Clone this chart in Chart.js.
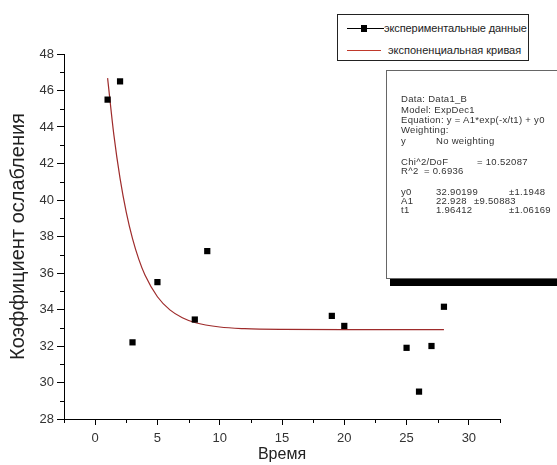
<!DOCTYPE html>
<html lang="ru">
<head>
    <meta charset="UTF-8">
    <title>Коэффициент ослабления</title>
    <style>
        body {
            margin: 0;
            background: #fff;
            overflow: hidden;
        }

        .wrap {
            position: relative;
            width: 557px;
            height: 465px;
            overflow: hidden;
            font-family: "Liberation Sans", Arial, sans-serif;
        }

        #fitChart {
            position: absolute;
            left: 0;
            top: 0;
        }

        /* legend box, top right */
        .legend {
            position: absolute;
            left: 337px;
            top: 14px;
            width: 190px;
            height: 45px;
            border: 1px solid #222;
            background: #fff;
            font-size: 11px;
            color: #222;
        }

        .legend .mark {
            position: absolute;
            height: 1px;
        }

        .legend .txt {
            position: absolute;
            white-space: nowrap;
            line-height: 12px;
        }

        /* fit results box */
        .stats {
            position: absolute;
            left: 386px;
            top: 70px;
            width: 190px;
            height: 207px;
            border: 1px solid #666;
            background: #fff;
            box-shadow: 4px 7px 0 #000;
            font-size: 9.5px;
            color: #333;
            letter-spacing: 0.3px;
        }

        .stats span {
            position: absolute;
            white-space: nowrap;
            line-height: 10px;
        }
    </style>
</head>
<body>
    <div class="wrap">
        <canvas id="fitChart" width="557" height="465"></canvas>

        <div class="legend">
            <div class="mark" style="left:9px; top:13px; width:37px; background:#000;"></div>
            <div class="mark" style="left:23px; top:10px; width:6px; height:7px; background:#000;"></div>
            <div class="txt" style="left:46px; top:7px; letter-spacing:-0.1px;">экспериментальные данные</div>
            <div class="mark" style="left:9px; top:35px; width:34px; background:#c0392b;"></div>
            <div class="txt" style="left:50px; top:29px;">экспоненциальная кривая</div>
        </div>

        <div class="stats">
            <span style="left:14px; top:23px;">Data: Data1_B</span>
            <span style="left:14px; top:34px;">Model: ExpDec1</span>
            <span style="left:14px; top:44px;">Equation: y = A1*exp(-x/t1) + y0</span>
            <span style="left:14px; top:54px;">Weighting:</span>
            <span style="left:14px; top:65px;">y</span>
            <span style="left:49px; top:65px;">No weighting</span>
            <span style="left:14px; top:86px;">Chi^2/DoF</span>
            <span style="left:90px; top:86px;">= 10.52087</span>
            <span style="left:14px; top:95px;">R^2</span>
            <span style="left:37px; top:95px;">= 0.6936</span>
            <span style="left:14px; top:116px;">y0</span>
            <span style="left:49px; top:116px;">32.90199</span>
            <span style="left:122px; top:116px;">±1.1948</span>
            <span style="left:14px; top:125px;">A1</span>
            <span style="left:49px; top:125px;">22.928</span>
            <span style="left:87px; top:125px;">±9.50883</span>
            <span style="left:14px; top:134px;">t1</span>
            <span style="left:49px; top:134px;">1.96412</span>
            <span style="left:122px; top:134px;">±1.06169</span>
        </div>
    </div>

    <script src="https://cdn.jsdelivr.net/npm/chart.js"></script>
    <script>
        // experimental points
        const expTime = [1, 2, 3, 5, 8, 9, 19, 20, 25, 26, 27, 28];
        const expCoef = [45.5, 46.5, 32.2, 35.5, 33.45, 37.2, 33.65, 33.1, 31.9, 29.5, 32.0, 34.15];

        // fitted exponential curve
        const curveTime = [1, 1.5, 2, 2.5, 3, 3.5, 4, 5, 6, 7, 8, 10, 12, 15, 20, 28];
        const curveCoef = [46.68, 43.58, 41.18, 39.32, 37.88, 36.76, 35.89, 34.70, 33.98, 33.55, 33.29, 33.04, 32.95, 32.91, 32.90, 32.90];

        // axis ticks
        const xMajorTicks = [0, 5, 10, 15, 20, 25, 30];
        const xMinorTicks = [-2.5, 2.5, 7.5, 12.5, 17.5, 22.5, 27.5, 32.5];
        const yMinorTicks = [29, 31, 33, 35, 37, 39, 41, 43, 45, 47];

        const toPoints = (xs, ys) => xs.map((x, i) => ({ x: x, y: ys[i] }));

        // minor ticks (Chart.js has none of its own)
        const minorTicks = {
            id: 'minorTicks',
            afterDraw(chart) {
                const ctx = chart.ctx;
                const xs = chart.scales.x;
                const ys = chart.scales.y;
                ctx.save();
                ctx.strokeStyle = '#000';
                ctx.lineWidth = 1;
                ctx.beginPath();
                yMinorTicks.forEach(v => {
                    const py = Math.round(ys.getPixelForValue(v)) + 0.5;
                    ctx.moveTo(xs.left - 4, py);
                    ctx.lineTo(xs.left, py);
                });
                xMinorTicks.forEach(v => {
                    const px = Math.round(xs.getPixelForValue(v)) + 0.5;
                    ctx.moveTo(px, ys.bottom);
                    ctx.lineTo(px, ys.bottom + 4);
                });
                ctx.stroke();
                ctx.restore();
            }
        };

        const ctx = document.getElementById('fitChart').getContext('2d');
        new Chart(ctx, {
            type: 'scatter',
            data: {
                datasets: [{
                    label: 'экспериментальные данные',
                    data: toPoints(expTime, expCoef),
                    pointStyle: 'rect',
                    pointRadius: 4.4,
                    pointBorderWidth: 0,
                    backgroundColor: '#000',
                    borderColor: '#000',
                    order: 0
                }, {
                    label: 'экспоненциальная кривая',
                    data: toPoints(curveTime, curveCoef),
                    showLine: true,
                    pointRadius: 0,
                    borderColor: '#9e2b2b',
                    borderWidth: 1.2,
                    cubicInterpolationMode: 'monotone',
                    order: 1
                }]
            },
            options: {
                responsive: false,
                animation: false,
                layout: {
                    padding: { top: 54, right: 57, left: 0, bottom: 0 }
                },
                plugins: {
                    legend: { display: false },
                    tooltip: { enabled: false }
                },
                scales: {
                    x: {
                        type: 'linear',
                        min: -2.5,
                        max: 32.5,
                        afterFit: (scale) => { scale.height = 46; },
                        afterBuildTicks: (scale) => {
                            scale.ticks = xMajorTicks.map(v => ({ value: v }));
                        },
                        ticks: {
                            color: '#333',
                            padding: 6,
                            maxRotation: 0,
                            font: { family: 'Liberation Sans', size: 13 }
                        },
                        grid: {
                            drawOnChartArea: false,
                            tickLength: 6,
                            tickColor: '#000'
                        },
                        border: { color: '#000', width: 1 },
                        title: {
                            display: true,
                            text: 'Время',
                            color: '#222',
                            padding: { top: 0, bottom: 1 },
                            font: { family: 'Liberation Sans', size: 16 }
                        }
                    },
                    y: {
                        min: 28,
                        max: 48,
                        afterFit: (scale) => { scale.width = 64; },
                        ticks: {
                            stepSize: 2,
                            color: '#333',
                            padding: 3,
                            font: { family: 'Liberation Sans', size: 13 }
                        },
                        grid: {
                            drawOnChartArea: false,
                            tickLength: 7,
                            tickColor: '#000'
                        },
                        border: { color: '#000', width: 1 },
                        title: {
                            display: true,
                            text: 'Коэффициент ослабления',
                            color: '#222',
                            padding: { top: 6, bottom: 0 },
                            font: { family: 'Liberation Sans', size: 20 }
                        }
                    }
                }
            },
            plugins: [minorTicks]
        });
    </script>
</body>
</html>
